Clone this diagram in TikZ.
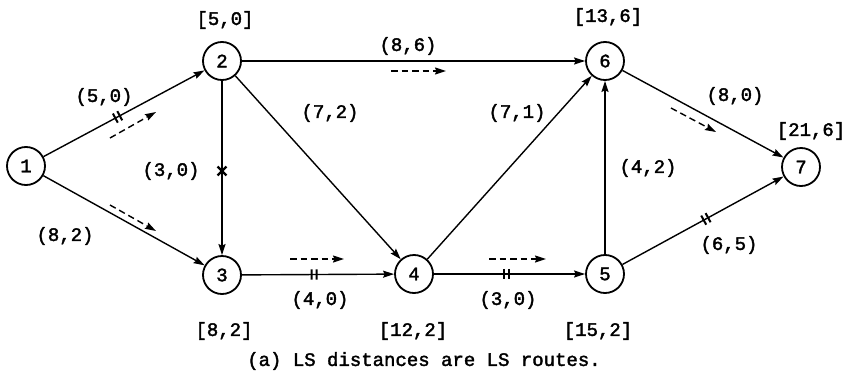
\documentclass[tikz,border=0pt]{standalone}
\usepackage{fontspec}
\setmainfont{Liberation Mono}[RawFeature={embolden=2}]
\usetikzlibrary{arrows.meta}
\newcommand{\dbar}[1]{\draw[line width=2pt] (#1.north west)--(#1.south west) (#1.north east)--(#1.south east);}
\newcommand{\xcross}[1]{\draw[line width=2.4pt] (#1.north west)--(#1.south east) (#1.north east)--(#1.south west);}
\begin{document}
\begin{tikzpicture}[x=1pt,y=-1pt,
  every node/.style={font=\fontsize{19}{22}\selectfont},
  vert/.style={circle,draw,line width=1.8pt,minimum size=38pt,inner sep=0pt},
  edge/.style={line width=1.4pt,-{Stealth[length=11pt,width=7pt,inset=1.5pt]}},
  flow/.style={line width=1.4pt,dash pattern=on 6.5pt off 4pt,-{Stealth[length=11pt,width=7pt,inset=1.5pt]}},
  tk/.style={sloped,inner sep=0pt,minimum width=3.6pt,minimum height=9pt},
  xk/.style={inner sep=0pt,minimum size=7.5pt}
]
\useasboundingbox (0,0) rectangle (849,383);
\node[vert] (n1) at (26,166) {1};
\node[vert] (n2) at (222,61) {2};
\node[vert] (n3) at (222,275) {3};
\node[vert] (n4) at (414,274) {4};
\node[vert] (n5) at (605,274) {5};
\node[vert] (n6) at (605,61) {6};
\node[vert] (n7) at (801,167) {7};

\draw[edge] (n1) -- node[tk,pos=0.46] (t12) {} (n2);
\draw[edge] (n1) -- (n3);
\draw[edge] (n2) -- node[xk,pos=0.517] (x23) {} (n3);
\draw[edge] (n2) -- (n4);
\draw[edge] (n2) -- (n6);
\draw[edge] (n3) -- node[tk,pos=0.474] (t34) {} (n4);
\draw[edge] (n4) -- (n6);
\draw[edge] (n4) -- node[tk,pos=0.477] (t45) {} (n5);
\draw[edge] (n5) -- (n6);
\draw[edge] (n5) -- node[tk,pos=0.518] (t57) {} (n7);
\draw[edge] (n6) -- (n7);
\dbar{t12}
\dbar{t34}
\dbar{t45}
\dbar{t57}
\xcross{x23}

% flow arrows
\coordinate (a1s) at (110,138); \coordinate (a1e) at (156,112);
\coordinate (a2s) at (110,205); \coordinate (a2e) at (156,231);
\coordinate (a3s) at (391,71);  \coordinate (a3e) at (446,71);
\coordinate (a4s) at (290,259); \coordinate (a4e) at (344,259);
\coordinate (a5s) at (489,259); \coordinate (a5e) at (546,259);
\coordinate (a6s) at (671,108); \coordinate (a6e) at (716,132);
\draw[flow] (a1s) -- (a1e);
\draw[flow] (a2s) -- (a2e);
\draw[flow] (a3s) -- (a3e);
\draw[flow] (a4s) -- (a4e);
\draw[flow] (a5s) -- (a5e);
\draw[flow] (a6s) -- (a6e);

% node labels
\node (l2) at (225,20) {[5,0]};
\node (l6) at (608,17) {[13,6]};
\node (l7) at (811,131) {[21,6]};
\node (l3) at (224,331) {[8,2]};
\node (l4) at (413,331) {[12,2]};
\node (l5) at (598,331) {[15,2]};

% edge labels
\node (e12) at (104,97) {(5,0)};
\node (e23) at (171,171) {(3,0)};
\node (e13) at (65,236) {(8,2)};
\node (e26) at (408,46) {(8,6)};
\node (e24) at (330,113) {(7,2)};
\node (e46) at (517,113) {(7,1)};
\node (e67) at (735,96) {(8,0)};
\node (e56) at (648,168) {(4,2)};
\node (e57) at (729,245) {(6,5)};
\node (e34) at (320,300) {(4,0)};
\node (e45) at (508,300) {(3,0)};

\node (cap) at (424,361) {(a) LS distances are LS routes.};
\end{tikzpicture}
\end{document}
